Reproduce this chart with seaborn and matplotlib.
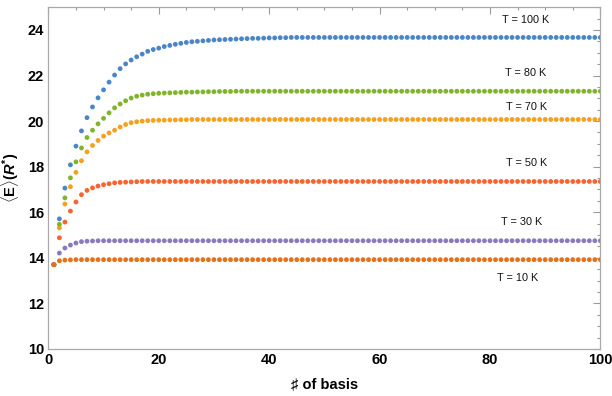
#! /usr/bin/env python3
# Mean energy <E> vs. number of basis functions, for several temperatures
import matplotlib.pyplot as plt
from matplotlib.ticker import MultipleLocator
import pandas as pd
import seaborn as sns

# data (n = 1..100)
n_basis = list(range(1, 101))

t100 = [13.70, 15.71, 17.06, 18.08, 18.90, 19.57, 20.15, 20.62, 21.02, 21.37,
        21.71, 22.02, 22.30, 22.51, 22.68, 22.82, 22.94, 23.06, 23.14, 23.20,
        23.27, 23.32, 23.37, 23.41, 23.45, 23.48, 23.50, 23.52, 23.54, 23.56,
        23.57, 23.58, 23.59, 23.60, 23.61, 23.62, 23.63, 23.63, 23.64, 23.65,
        23.65, 23.66, 23.66, 23.67] + [23.67] * 56
t80 = [13.70, 15.47, 16.63, 17.51, 18.21, 18.82, 19.28, 19.60, 19.88, 20.12,
       20.36, 20.58, 20.75, 20.89, 21.01, 21.09, 21.14, 21.18, 21.20, 21.22,
       21.23, 21.24, 21.25, 21.26, 21.27, 21.27, 21.28, 21.28, 21.29, 21.29,
       21.30, 21.30, 21.30, 21.31, 21.31] + [21.31] * 65
t70 = [13.70, 15.31, 16.36, 17.12, 17.75, 18.26, 18.65, 18.93, 19.15, 19.34,
       19.48, 19.60, 19.74, 19.85, 19.93, 19.97, 20.00, 20.02, 20.03, 20.04,
       20.04, 20.05, 20.05, 20.06, 20.06] + [20.07] * 75
t50 = [13.70, 14.88, 15.57, 16.05, 16.45, 16.77, 16.96, 17.07, 17.15, 17.21,
       17.25, 17.29, 17.31, 17.32, 17.33, 17.34] + [17.35] * 84
t30 = [13.70, 14.21, 14.43, 14.56, 14.65, 14.71, 14.73, 14.74] + [14.75] * 92
t10 = [13.70, 13.87, 13.90, 13.91] + [13.92] * 96

temps = ["T = 100 K", "T = 70 K", "T = 80 K", "T = 50 K", "T = 30 K", "T = 10 K"]
series = [t100, t70, t80, t50, t30, t10]
colors = ["#4a86c6", "#f5a11f", "#80b42b", "#f8632f", "#8a7abd", "#e4721b"]

# label positions (data coords)
label_x = [86.5, 86.6, 86.4, 86.7, 85.7, 85.0]
label_y = [24.43, 20.60, 22.09, 18.17, 15.58, 13.10]

df = pd.concat([pd.DataFrame({"n": n_basis, "E": vals, "T": t})
                for t, vals in zip(temps, series)], ignore_index=True)

# settings
sns.set_style("white")
plt.rcParams['font.family'] = ['Liberation Sans', 'DejaVu Sans']
plt.rcParams['mathtext.fontset'] = 'custom'
plt.rcParams['mathtext.rm'] = 'Liberation Sans:bold'
plt.rcParams['mathtext.it'] = 'Liberation Sans:bold:italic'
plt.rcParams['mathtext.bf'] = 'Liberation Sans:bold'

fig = plt.figure(figsize=(6.12, 3.96), dpi=100)
ax = fig.add_axes([0.079, 0.1187, 0.902, 0.8633])

sns.scatterplot(data=df, x="n", y="E", hue="T", hue_order=temps,
                palette=colors, s=12, linewidth=0, legend=False, ax=ax)

for t, x, y in zip(temps, label_x, label_y):
    ax.text(x, y, t, fontsize=7.8, ha='center', va='center', color='#111111')

ax.set_xlim(0, 100)
ax.set_ylim(10, 25)
ax.xaxis.set_major_locator(MultipleLocator(20))
ax.xaxis.set_minor_locator(MultipleLocator(5))
ax.yaxis.set_major_locator(MultipleLocator(2))
ax.yaxis.set_minor_locator(MultipleLocator(0.5))
ax.tick_params(which='both', direction='in', top=True, right=True,
               color='#9a9a9a', width=0.8, labelsize=10.5, pad=3,
               labelcolor='black')
ax.tick_params(which='major', length=5)
ax.tick_params(which='minor', length=2.5)
for lab in ax.get_xticklabels() + ax.get_yticklabels():
    lab.set_fontweight('bold')
for sp in ax.spines.values():
    sp.set_color('#a8a8a8')
    sp.set_linewidth(0.9)

ax.set_xlabel("\u266f of basis", fontsize=10.5, fontweight='bold',
              labelpad=7, color='black')
ax.set_ylabel(r"$\langle\mathrm{E}\rangle(R^{*})$", fontsize=10.5,
              labelpad=5, color='black')

fig.savefig("out.png", dpi=100)
plt.close()
